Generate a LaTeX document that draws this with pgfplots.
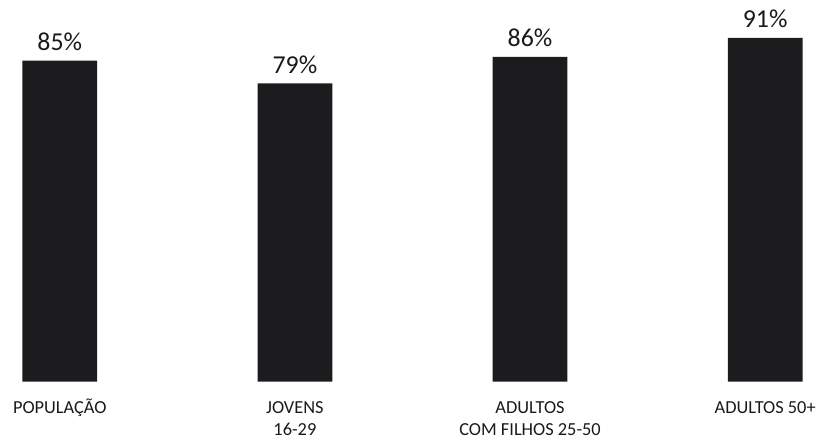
\documentclass[border=0pt]{standalone}
\usepackage{fontspec}
\setmainfont{Carlito}
\usepackage{pgfplots}
\pgfplotsset{compat=1.18}
\definecolor{barcol}{HTML}{1C1C1F}
\definecolor{txt}{HTML}{1A1A1A}
\begin{document}
\begin{tikzpicture}
\begin{axis}[
  scale only axis,
  width=819bp, height=441bp,
  xmin=-0.2542, xmax=3.2161,
  ymin=-15.3, ymax=101.05,
  hide axis,
  clip=false,
  ybar, bar width=75bp,
  /pgf/number format/assume math mode=true,
  nodes near coords={\pgfmathprintnumber{\pgfplotspointmeta}\%},
  nodes near coords style={anchor=base, yshift=10bp, text=txt, font=\fontsize{26}{30}\selectfont},
]
\addplot[fill=barcol, draw=none] coordinates {(0,85) (1,79) (2,86) (3,91)};
\path (rel axis cs:0,0) rectangle (rel axis cs:1,1);
\node[anchor=base, text=txt, font=\fontsize{18.5}{22}\selectfont] at (axis cs:0,-8.58) {POPULAÇÃO};
\node[anchor=base, text=txt, font=\fontsize{18.5}{22}\selectfont] at (axis cs:1,-8.58) {JOVENS};
\node[anchor=base, text=txt, font=\fontsize{18.5}{22}\selectfont] at (axis cs:1,-14.4) {16-29};
\node[anchor=base, text=txt, font=\fontsize{18.5}{22}\selectfont] at (axis cs:2,-8.58) {ADULTOS};
\node[anchor=base, text=txt, font=\fontsize{18.5}{22}\selectfont] at (axis cs:2,-14.4) {COM FILHOS 25-50};
\node[anchor=base, text=txt, font=\fontsize{18.5}{22}\selectfont] at (axis cs:3,-8.58) {ADULTOS 50+};
\end{axis}
\end{tikzpicture}
\end{document}
